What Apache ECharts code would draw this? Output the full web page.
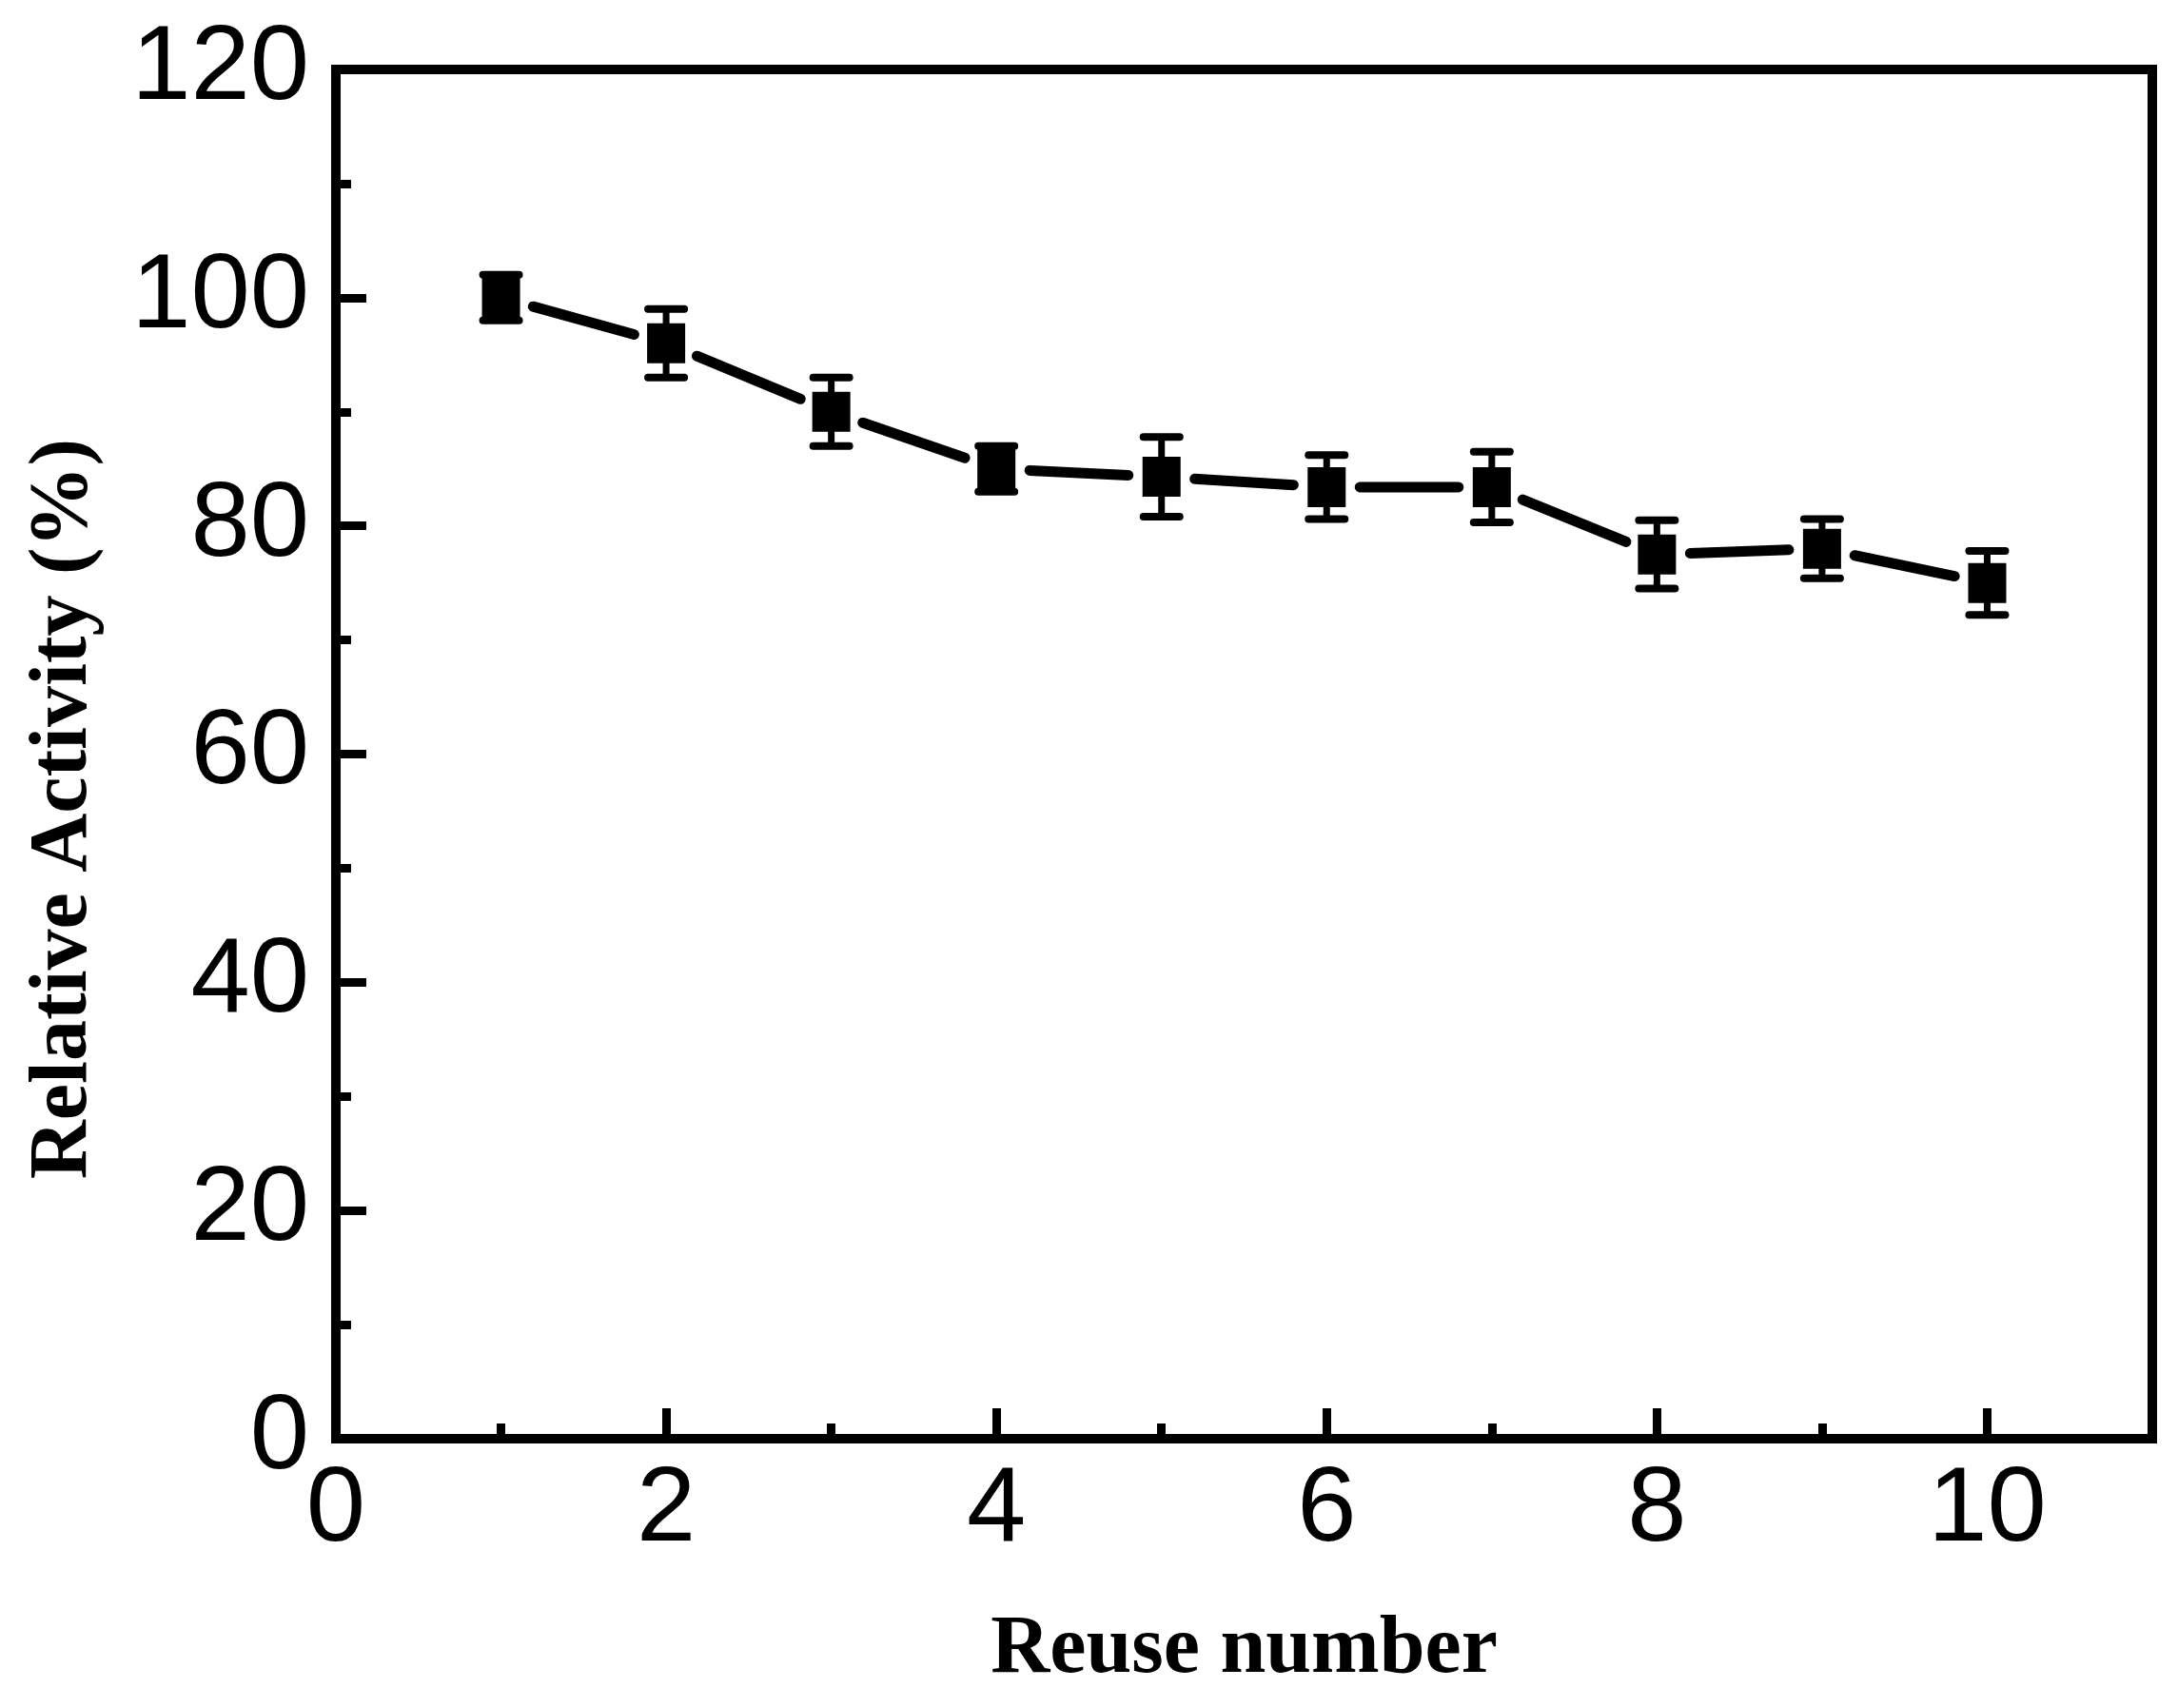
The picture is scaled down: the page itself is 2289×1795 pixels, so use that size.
<!DOCTYPE html>
<html>
<head>
<meta charset="utf-8">
<script src="https://cdn.jsdelivr.net/npm/echarts@6/dist/echarts.min.js"></script>
<style>
  html, body { margin: 0; padding: 0; background: #fff; }
  #main { width: 2289px; height: 1795px; }
</style>
</head>
<body>
<div id="main"></div>
<script>
// 数据
var reuseNumber = [1, 2, 3, 4, 5, 6, 7, 8, 9, 10];
var relActivity = [100, 96, 90, 85, 84.3, 83.4, 83.4, 77.5, 78.0, 75.0];
var errBar = [2, 3, 3, 2, 3.5, 2.8, 3.1, 3.0, 2.6, 2.8];

var myChart = echarts.init(document.getElementById('main'));

var points = reuseNumber.map(function (x, i) { return [x, relActivity[i]]; });
var errData = reuseNumber.map(function (x, i) {
  return [x, relActivity[i] - errBar[i], relActivity[i] + errBar[i]];
});

var numFont = 'Liberation Sans, Arial, sans-serif';
var nameFont = 'Liberation Serif, Times New Roman, serif';

option = {
  backgroundColor: '#fff',
  animation: false,
  grid: {
    left: 353, right: 27, top: 73, bottom: 283,
    show: true, borderColor: '#000', borderWidth: 10, backgroundColor: 'transparent'
  },
  xAxis: [{
    type: 'value', min: 0, max: 11, interval: 1,
    name: 'Reuse number', nameLocation: 'middle', nameGap: 180,
    nameTextStyle: { fontFamily: nameFont, fontWeight: 'bold', fontSize: 86, color: '#000' },
    axisLine: { lineStyle: { color: '#000', width: 10 } },
    axisTick: { inside: true, length: 16, lineStyle: { color: '#000', width: 9 } },
    axisLabel: {
      margin: 20, fontFamily: numFont, fontSize: 112, color: '#000',
      formatter: function (v) { return (v % 2 === 0 && v <= 10) ? String(v) : ''; }
    },
    splitLine: { show: false }
  }, {
    // 主刻度（偶数）
    type: 'value', min: 0, max: 11, interval: 2, position: 'bottom',
    axisLine: { show: false },
    axisTick: { inside: true, length: 32, lineStyle: { color: '#000', width: 9 } },
    axisLabel: { show: false },
    splitLine: { show: false }
  }],
  yAxis: {
    type: 'value', min: 0, max: 120, interval: 20,
    axisLine: { lineStyle: { color: '#000', width: 10 } },
    axisTick: { inside: true, length: 32, lineStyle: { color: '#000', width: 9 } },
    minorTick: { show: true, splitNumber: 2, length: 16, lineStyle: { color: '#000', width: 9 } },
    axisLabel: { margin: 28, fontFamily: numFont, fontSize: 112, color: '#000' },
    splitLine: { show: false }
  },
  graphic: [{
    type: 'text', x: 68, y: 850, rotation: Math.PI / 2,
    style: {
      text: 'Relative Activity (%)', fill: '#000',
      font: 'bold 86px ' + nameFont, align: 'center', verticalAlign: 'middle'
    }
  }],
  series: [{
    // 连线（带符号间隙）
    type: 'custom',
    data: points,
    encode: { x: 0, y: 1 },
    renderItem: function (params, api) {
      var i = params.dataIndex;
      if (i >= reuseNumber.length - 1) return;
      var p0 = api.coord([reuseNumber[i], relActivity[i]]);
      var p1 = api.coord([reuseNumber[i + 1], relActivity[i + 1]]);
      var dx = p1[0] - p0[0], dy = p1[1] - p0[1];
      var len = Math.sqrt(dx * dx + dy * dy);
      var gap = 35;
      var ux = dx / len, uy = dy / len;
      return {
        type: 'line',
        shape: { x1: p0[0] + ux * gap, y1: p0[1] + uy * gap, x2: p1[0] - ux * gap, y2: p1[1] - uy * gap },
        style: { stroke: '#000', lineWidth: 11, lineCap: 'round' }
      };
    },
    z: 2
  }, {
    // 误差棒
    type: 'custom',
    data: errData,
    encode: { x: 0, y: [1, 2] },
    renderItem: function (params, api) {
      var lo = api.coord([api.value(0), api.value(1)]);
      var hi = api.coord([api.value(0), api.value(2)]);
      var hw = 19;
      var st = { stroke: '#000', lineWidth: 8, lineCap: 'round' };
      return {
        type: 'group',
        children: [
          { type: 'line', shape: { x1: lo[0], y1: lo[1], x2: hi[0], y2: hi[1] }, style: { stroke: '#000', lineWidth: 7 } },
          { type: 'line', shape: { x1: lo[0] - hw, y1: lo[1], x2: lo[0] + hw, y2: lo[1] }, style: st },
          { type: 'line', shape: { x1: hi[0] - hw, y1: hi[1], x2: hi[0] + hw, y2: hi[1] }, style: st }
        ]
      };
    },
    z: 3
  }, {
    type: 'scatter',
    data: points,
    symbol: 'rect',
    symbolSize: [40, 42],
    itemStyle: { color: '#000', opacity: 1 },
    z: 4
  }]
};

myChart.setOption(option);
</script>
</body>
</html>
